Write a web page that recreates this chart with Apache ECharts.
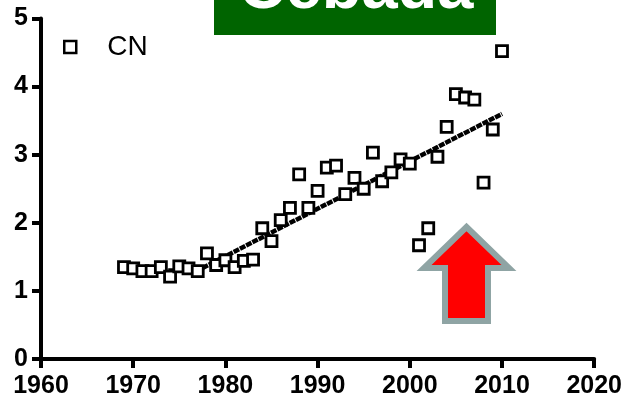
<!DOCTYPE html>
<html>
<head>
<meta charset="utf-8">
<style>
  html, body { margin: 0; padding: 0; background: #ffffff; }
  #chart { width: 625px; height: 399px; }
</style>
<script src="https://cdn.jsdelivr.net/npm/echarts@6/dist/echarts.min.js"></script>
</head>
<body>
<div id="chart"></div>
<script>
// Barley yield, CN series
const years = [1969, 1970, 1971, 1972, 1973, 1974, 1975, 1976, 1977, 1978,
               1979, 1980, 1981, 1982, 1983, 1984, 1985, 1986, 1987, 1988,
               1989, 1990, 1991, 1992, 1993, 1994, 1995, 1996, 1997, 1998,
               1999, 2000, 2001, 2002, 2003, 2004, 2005, 2006, 2007, 2008,
               2009, 2010];
const yieldCN = [1.35, 1.33, 1.29, 1.29, 1.35, 1.21, 1.36, 1.33, 1.29, 1.55,
                 1.38, 1.45, 1.35, 1.44, 1.46, 1.92, 1.73, 2.04, 2.22, 2.71,
                 2.22, 2.47, 2.81, 2.84, 2.42, 2.66, 2.50, 3.03, 2.61, 2.74,
                 2.93, 2.87, 1.67, 1.92, 2.97, 3.41, 3.89, 3.84, 3.81, 2.59,
                 3.37, 4.52];

// Segmented trend: plateau, breakpoint, linear rise
const trendYears = [1970, 1977, 2010];
const trendValues = [1.30, 1.30, 3.60];

const xTicks = [1960, 1970, 1980, 1990, 2000, 2010, 2020];
const yTicks = [0, 1, 2, 3, 4, 5];

const seriesName = 'CN';
const titleText = 'Cebada';

const points = years.map((y, i) => [y, yieldCN[i]]);
const trend = trendYears.map((y, i) => [y, trendValues[i]]);

const chart = echarts.init(document.getElementById('chart'), null, { renderer: 'canvas' });

const axisLabelFont = {
  color: '#000',
  fontFamily: 'Liberation Sans, Arial, sans-serif',
  fontWeight: 'bold',
  fontSize: 25
};

chart.setOption({
  animation: false,
  backgroundColor: '#ffffff',
  grid: { left: 41, right: 30, top: 18.5, bottom: 39, containLabel: false },
  xAxis: {
    type: 'value',
    min: xTicks[0],
    max: xTicks[xTicks.length - 1],
    interval: 10,
    splitLine: { show: false },
    axisLine: { show: true, onZero: false, lineStyle: { color: '#000', width: 4 } },
    axisTick: { show: true, length: 9, lineStyle: { color: '#000', width: 4 } },
    axisLabel: Object.assign({ margin: 15, formatter: v => String(v) }, axisLabelFont)
  },
  yAxis: {
    type: 'value',
    min: yTicks[0],
    max: yTicks[yTicks.length - 1],
    interval: 1,
    splitLine: { show: false },
    axisLine: { show: true, onZero: false, lineStyle: { color: '#000', width: 4 } },
    axisTick: { show: true, length: 9, lineStyle: { color: '#000', width: 4 } },
    axisLabel: Object.assign({ margin: 13 }, axisLabelFont)
  },
  legend: {
    show: true,
    left: 58,
    top: 28,
    itemWidth: 12,
    itemHeight: 12,
    itemGap: 10,
    data: [{ name: seriesName, icon: 'rect', itemStyle: { color: '#fff', borderColor: '#000', borderWidth: 2.5 } }],
    textStyle: {
      color: '#000',
      fontFamily: 'Liberation Sans, Arial, sans-serif',
      fontSize: 28,
      padding: [0, 0, 0, 26]
    }
  },
  series: [
    {
      name: 'trend',
      type: 'line',
      data: trend,
      symbol: 'none',
      silent: true,
      z: 2,
      lineStyle: { color: '#000', width: 4.5, type: [6, 1] }
    },
    {
      name: seriesName,
      type: 'scatter',
      data: points,
      symbol: 'rect',
      symbolSize: 11,
      z: 3,
      itemStyle: { color: '#fff', borderColor: '#000', borderWidth: 2.8, opacity: 1 }
    }
  ],
  graphic: [
    {
      type: 'rect',
      shape: { x: 214, y: 0, width: 282, height: 35 },
      style: { fill: '#006400' },
      z: 10
    },
    {
      type: 'text',
      x: 356,
      y: -42,
      style: {
        text: titleText,
        fill: '#ffffff',
        font: 'bold 65px "Liberation Sans", Arial, sans-serif',
        align: 'center',
        verticalAlign: 'top'
      },
      z: 11
    },
    {
      type: 'polygon',
      shape: {
        points: [
          [466.5, 227], [509, 268], [488, 268], [488, 321],
          [445, 321], [445, 268], [424, 268]
        ]
      },
      style: { fill: '#ff0000', stroke: '#8fa4a4', lineWidth: 6, lineJoin: 'miter' },
      z: 10
    }
  ]
});
</script>
</body>
</html>
